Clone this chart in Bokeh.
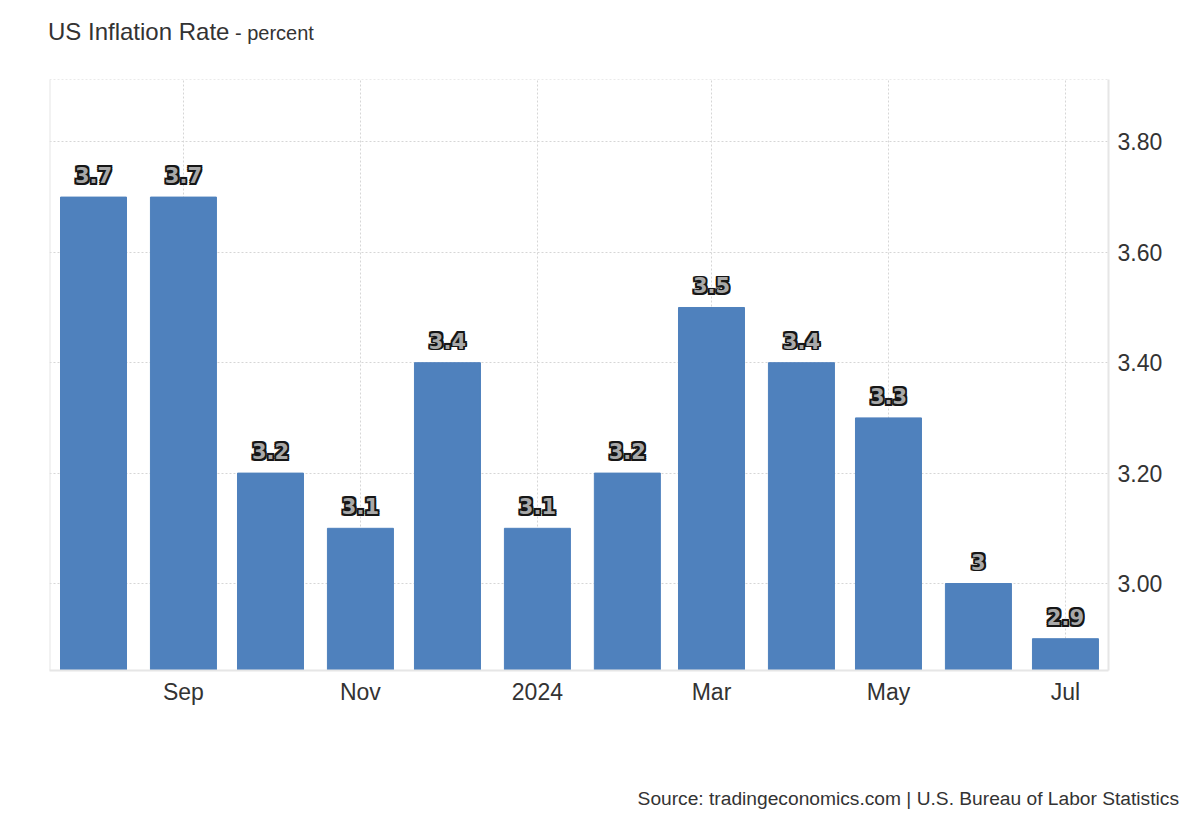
import pandas as pd
from datetime import datetime, timedelta
from bokeh.plotting import figure
from bokeh.models import (ColumnDataSource, FixedTicker, Span, NumeralTickFormatter, Range1d, Div)
from bokeh.layouts import column
from bokeh.core.properties import value
from bokeh.embed import file_html
from bokeh.resources import INLINE

months = ["2023-08-01", "2023-09-01", "2023-10-01", "2023-11-01", "2023-12-01", "2024-01-01",
          "2024-02-01", "2024-03-01", "2024-04-01", "2024-05-01", "2024-06-01", "2024-07-01"]
rates = [3.7, 3.7, 3.2, 3.1, 3.4, 3.1, 3.2, 3.5, 3.4, 3.3, 3.0, 2.9]
rate_labels = ["3.7", "3.7", "3.2", "3.1", "3.4", "3.1", "3.2", "3.5", "3.4", "3.3", "3", "2.9"]
x_tick_dates = ["2023-09-01", "2023-11-01", "2024-01-01", "2024-03-01", "2024-05-01", "2024-07-01"]
x_tick_labels = ["Sep", "Nov", "2024", "Mar", "May", "Jul"]
y_ticks = [3.0, 3.2, 3.4, 3.6, 3.8]

FONT = "Liberation Sans"
dates = pd.to_datetime(months)
src = ColumnDataSource(dict(date=dates, rate=rates, label=rate_labels))

x_start = datetime(2023, 7, 16, 20)
x_end = datetime(2024, 7, 15, 20)
y_start, y_end = 2.8424, 3.913

TOP_H = 60
p = figure(width=1192, height=710, x_axis_type="datetime", y_axis_location="right",
           x_range=Range1d(x_start, x_end), y_range=Range1d(y_start, y_end),
           output_backend="svg", toolbar_location=None,
           min_border_left=49, min_border_right=84, min_border_top=19, min_border_bottom=100)
p.outline_line_color = None
p.background_fill_color = "white"

bar_w = timedelta(days=22.75).total_seconds() * 1000
p.vbar(x="date", top="rate", bottom=2.0, width=bar_w, source=src, color="#4f81bd")

# outlined value labels: dark halo copies, then light grey fill on top
r = 1.8
offsets = [(-r, 0), (r, 0), (0, -r), (0, r), (-r, -r), (r, r), (-r, r), (r, -r)]
for dx, dy in offsets:
    p.text(x="date", y="rate", text="label", source=src, text_align="center", text_baseline="bottom",
           x_offset=dx, y_offset=-14 + dy, text_font=value("DejaVu Sans"), text_font_style="bold",
           text_font_size="21px", text_color="#161616")
p.text(x="date", y="rate", text="label", source=src, text_align="center", text_baseline="bottom",
       y_offset=-14, text_font=value("DejaVu Sans"), text_font_style="bold", text_font_size="21px",
       text_color="#a9a9a9")

tick_ms = [pd.Timestamp(d).value / 1e6 for d in x_tick_dates]
p.xaxis.ticker = FixedTicker(ticks=tick_ms)
p.xaxis.major_label_overrides = {t: l for t, l in zip(tick_ms, x_tick_labels)}
p.yaxis.ticker = FixedTicker(ticks=y_ticks)
p.yaxis.formatter = NumeralTickFormatter(format="0.00")

for ax in (p.xaxis[0], p.yaxis[0]):
    ax.axis_line_color = "#e6e6e6"
    ax.axis_line_width = 2
    ax.major_tick_line_color = None
    ax.minor_tick_line_color = None
    ax.major_label_text_font = FONT
    ax.major_label_text_font_size = "23px"
    ax.major_label_text_color = "#333333"
p.xaxis.major_label_standoff = 2
p.yaxis.major_label_standoff = 3

for g in (p.xgrid[0], p.ygrid[0]):
    g.grid_line_color = "#d6d6d6"
    g.grid_line_dash = "2 2"
    g.grid_line_width = 1

p.add_layout(Span(location=x_start, dimension="height", line_color="#e6e6e6", line_width=2))
p.add_layout(Span(location=y_end, dimension="width", line_color="#d6d6d6", line_width=1, line_dash="2 2"))

title = Div(width=1192, height=TOP_H, margin=(0, 0, 0, 0),
            text=('<div style="font-family:\'Liberation Sans\';color:#333333;line-height:1;'
                  'padding-left:48px;padding-top:20px;white-space:nowrap;">'
                  '<span style="font-size:24px;">US Inflation Rate</span>'
                  '<span style="font-size:20px;"> - percent</span></div>'))
source_div = Div(width=1179, height=42, margin=(0, 0, 0, 0),
                 text=('<div style="font-family:\'Liberation Sans\';color:#333333;line-height:1;'
                       'font-size:19.2px;text-align:right;padding-top:19px;white-space:nowrap;width:1179px;">'
                       'Source: tradingeconomics.com | U.S. Bureau of Labor Statistics</div>'))

layout = column(title, p, source_div, spacing=0)
open("out.html", "w").write(file_html(layout, INLINE))
